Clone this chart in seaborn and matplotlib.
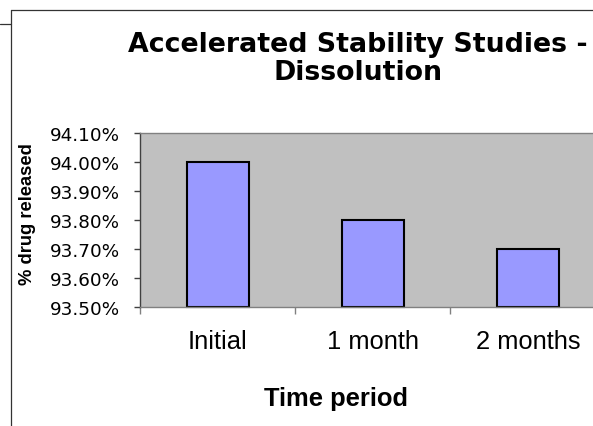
import matplotlib
matplotlib.use("Agg")
import matplotlib.pyplot as plt
import seaborn as sns
import pandas as pd
from matplotlib.lines import Line2D
from matplotlib.ticker import FuncFormatter

# Dissolution results for the accelerated stability study
periods = ["Initial", "1 month", "2 months"]
drug_released = [94.00, 93.80, 93.70]
y_ticks = [93.50, 93.60, 93.70, 93.80, 93.90, 94.00, 94.10]

title_lines = ["Accelerated Stability Studies -", "Dissolution"]
x_label = "Time period"
y_label = "% drug released"

sns.set_style("ticks")
plt.rcParams["font.family"] = ["Liberation Sans", "DejaVu Sans"]
plt.rcParams["text.color"] = "black"

W, H = 593, 427
fig = plt.figure(figsize=(W / 100, H / 100), dpi=100)

# plot area runs past the right edge of the canvas
ax = fig.add_axes([140 / W, (H - 308) / H, (605.5 - 140) / W, 174 / H])

df = pd.DataFrame({"period": periods, "released": drug_released})
sns.barplot(data=df, x="period", y="released", color="#9999FF", saturation=1,
            width=0.4, edgecolor="black", linewidth=1.5, ax=ax)

# bars rise from the bottom of the value axis
base = y_ticks[0]
for p in ax.patches:
    top = p.get_y() + p.get_height()
    p.set_y(base)
    p.set_height(top - base)
    p.set_clip_on(False)

ax.set_facecolor("#C0C0C0")
ax.set_ylim(y_ticks[0], y_ticks[-1])
ax.set_xlim(-0.5, len(periods) - 0.5)
ax.set_xlabel("")
ax.set_ylabel("")

ax.set_yticks(y_ticks)
ax.yaxis.set_major_formatter(FuncFormatter(lambda v, _: f"{v:.2f}%"))
for lab in ax.get_yticklabels():
    lab.set_fontfamily("DejaVu Sans")
ax.tick_params(axis="y", length=4.3, width=1, color="#404040", pad=10.3,
               labelsize=13.2, labelcolor="black")

# category separators as major ticks, names as minor ticks
ax.set_xticks([i - 0.5 for i in range(len(periods) + 1)])
ax.set_xticklabels([])
ax.set_xticks(range(len(periods)), labels=periods, minor=True)
ax.tick_params(axis="x", which="major", length=5, width=1, color="#808080")
ax.tick_params(axis="x", which="minor", length=0, pad=16, labelsize=18.4,
               labelcolor="black")

ax.spines["left"].set_color("#404040")
ax.spines["bottom"].set_color("#808080")
ax.spines["top"].set_visible(True)
ax.spines["top"].set_color("#808080")
ax.spines["right"].set_visible(False)
for s in ax.spines.values():
    s.set_linewidth(1)

fig.text(358 / W, 1 - 51.7 / H, title_lines[0], ha="center", va="baseline",
         fontsize=19.3, fontweight="bold", family="DejaVu Sans", color="black")
fig.text(358 / W, 1 - 80 / H, title_lines[1], ha="center", va="baseline",
         fontsize=19.3, fontweight="bold", family="DejaVu Sans", color="black")
fig.text(28 / W, 1 - 214 / H, y_label, ha="center", va="center", rotation=90,
         fontsize=13.2, fontweight="bold", color="black")
fig.text(336 / W, 1 - 406 / H, x_label, ha="center", va="baseline",
         fontsize=18.4, fontweight="bold", color="black")

# chart frame
frame = dict(transform=fig.transFigure, color="#333333", linewidth=0.9)
fig.add_artist(Line2D([10.5 / W, 10.5 / W], [0, 1 - 10.5 / H], **frame))
fig.add_artist(Line2D([10.5 / W, 1], [1 - 10.5 / H, 1 - 10.5 / H], **frame))
fig.add_artist(Line2D([0, 10.5 / W], [1 - 24.5 / H, 1 - 24.5 / H], **frame))

fig.savefig("out.png", dpi=100)
